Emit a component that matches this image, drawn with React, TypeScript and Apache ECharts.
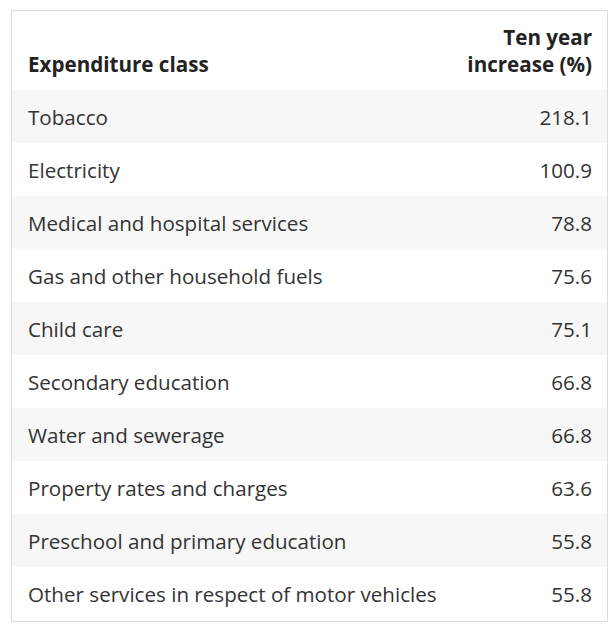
import React, { useEffect, useRef } from "react";
import * as echarts from "echarts";

const categories = [
  "Tobacco",
  "Electricity",
  "Medical and hospital services",
  "Gas and other household fuels",
  "Child care",
  "Secondary education",
  "Water and sewerage",
  "Property rates and charges",
  "Preschool and primary education",
  "Other services in respect of motor vehicles",
];
const increases = [218.1, 100.9, 78.8, 75.6, 75.1, 66.8, 66.8, 63.6, 55.8, 55.8];
const headerLeft = "Expenditure class";
const headerRight = ["Ten year", "increase (%)"];

const FONT = "'Open Sans', 'Noto Sans', sans-serif";
const SIZE = "20.6px";

export default function App() {
  const ref = useRef<HTMLDivElement>(null);
  useEffect(() => {
    if (!ref.current) return;
    const chart = echarts.init(ref.current, null, { renderer: "svg" });
    const data = categories.map((c, i) => [0, i, c, increases[i].toFixed(1)]);
    chart.setOption({
      animation: false,
      backgroundColor: "#ffffff",
      grid: { left: 12, right: 8, top: 90, bottom: 9 },
      xAxis: { type: "value", min: 0, max: 1, show: false },
      yAxis: {
        type: "category",
        data: categories,
        inverse: true,
        show: false,
      },
      graphic: [
        {
          type: "rect",
          shape: { x: 11.5, y: 10.5, width: 596, height: 611 },
          style: { fill: "none", stroke: "#dddddd", lineWidth: 1 },
          z: 10,
        },
        {
          type: "text",
          x: 28,
          y: 63.5,
          style: {
            text: headerLeft,
            font: `bold ${SIZE} ${FONT}`,
            fill: "#222222",
            textVerticalAlign: "middle",
            textAlign: "left",
          },
        },
        {
          type: "text",
          x: 592,
          y: 37,
          style: {
            text: headerRight[0],
            font: `bold ${SIZE} ${FONT}`,
            fill: "#222222",
            textVerticalAlign: "middle",
            textAlign: "right",
          },
        },
        {
          type: "text",
          x: 592,
          y: 63.5,
          style: {
            text: headerRight[1],
            font: `bold ${SIZE} ${FONT}`,
            fill: "#222222",
            textVerticalAlign: "middle",
            textAlign: "right",
          },
        },
      ],
      series: [
        {
          type: "custom",
          data,
          renderItem: (params: any, api: any) => {
            const idx = api.value(1);
            const pt = api.coord([0, idx]);
            const h = api.size([0, 1])[1];
            const cs = params.coordSys;
            const children: any[] = [];
            if (idx % 2 === 0) {
              children.push({
                type: "rect",
                shape: { x: cs.x, y: pt[1] - h / 2, width: cs.width, height: h },
                style: { fill: "#f7f7f7" },
              });
            }
            children.push({
              type: "text",
              x: 28,
              y: pt[1],
              style: {
                text: categories[idx],
                font: `${SIZE} ${FONT}`,
                fill: "#333333",
                textVerticalAlign: "middle",
                textAlign: "left",
              },
            });
            children.push({
              type: "text",
              x: 592,
              y: pt[1],
              style: {
                text: increases[idx].toFixed(1),
                font: `${SIZE} ${FONT}`,
                fill: "#333333",
                textVerticalAlign: "middle",
                textAlign: "right",
              },
            });
            return { type: "group", children };
          },
        },
      ],
    });
    return () => chart.dispose();
  }, []);
  return (
    <div
      ref={ref}
      style={{ position: "absolute", left: 0, top: 0, width: 616, height: 629 }}
    />
  );
}
